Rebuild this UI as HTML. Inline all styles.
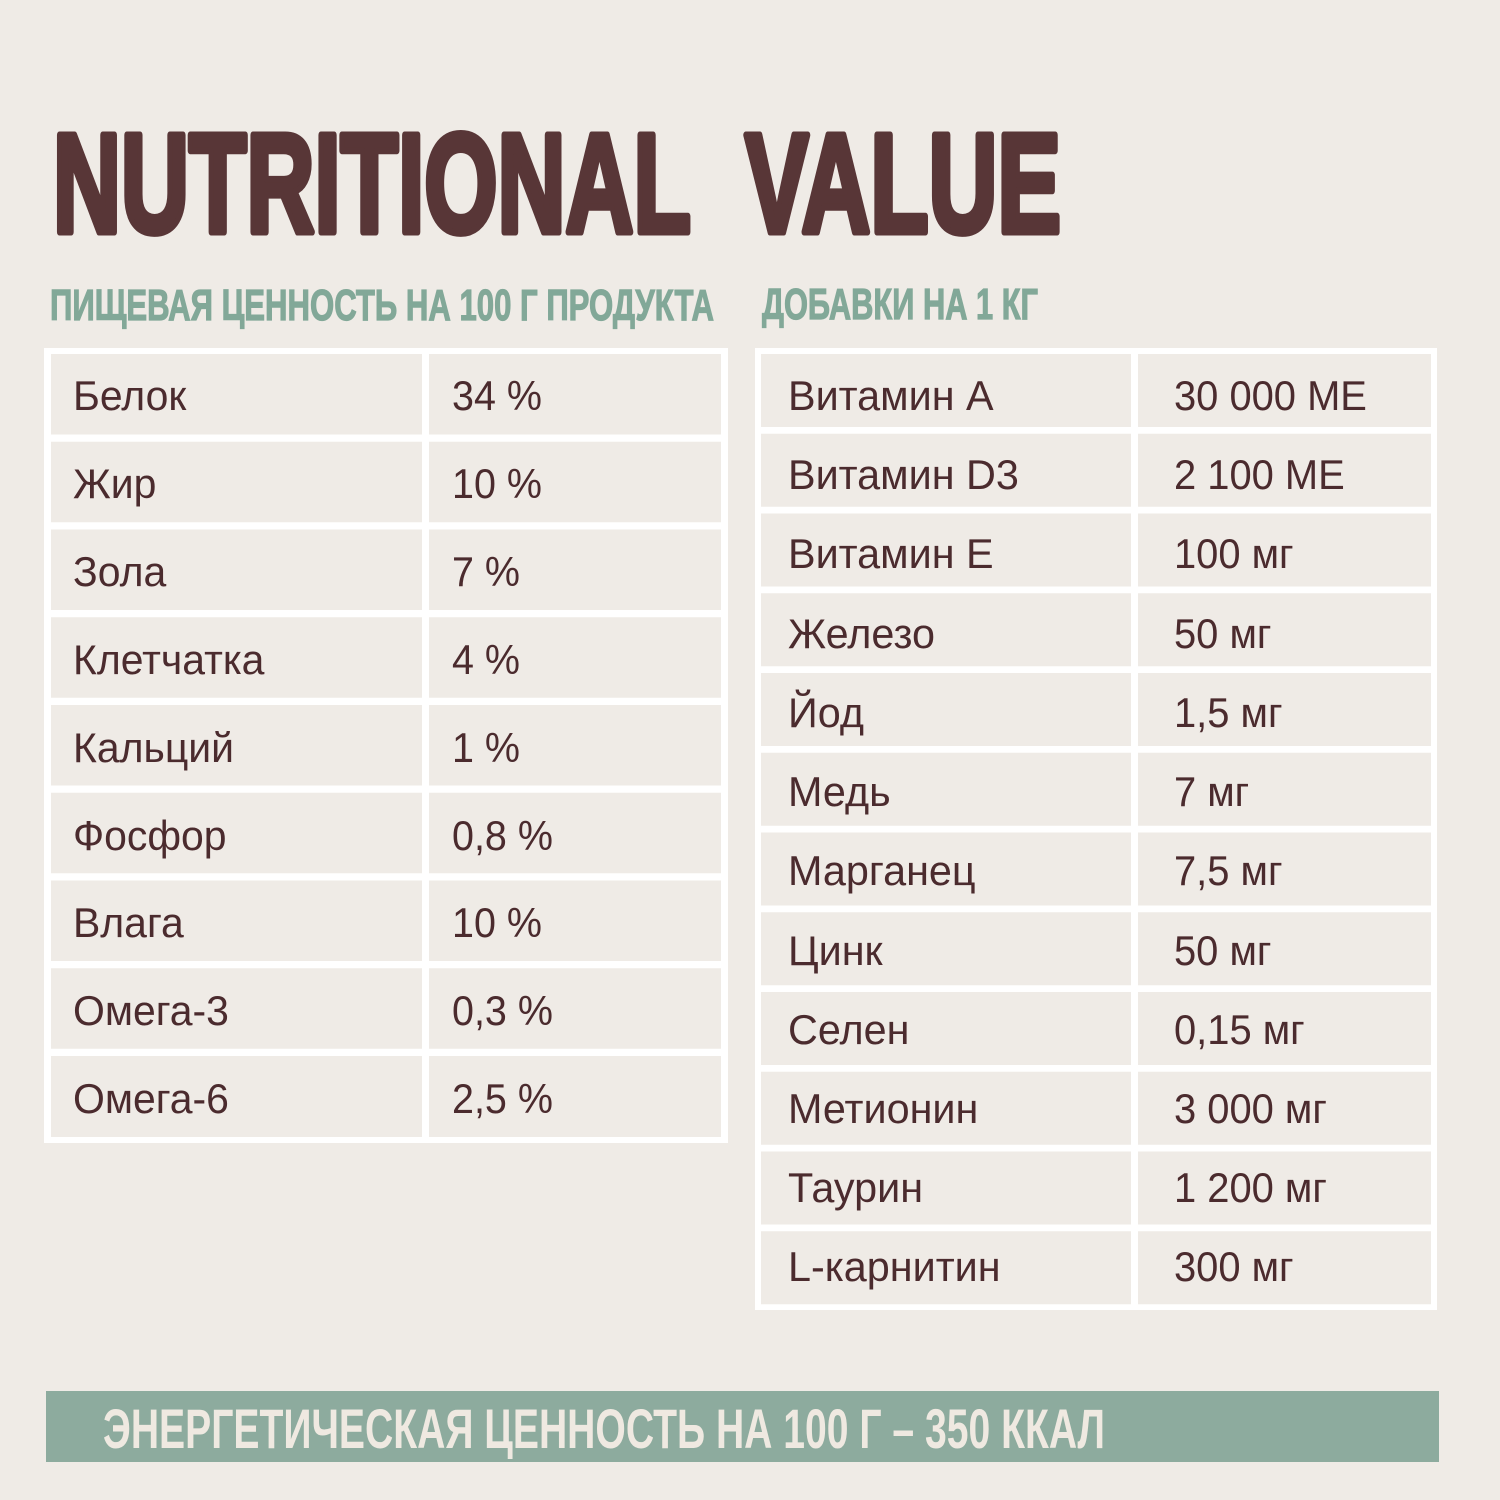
<!DOCTYPE html>
<html>
<head>
<meta charset="utf-8">
<style>
  html, body { margin:0; padding:0; background:#efebe6; }
  svg { display:block; }
</style>
</head>
<body>
<svg width="1500" height="1500" viewBox="0 0 1500 1500" xmlns="http://www.w3.org/2000/svg">
  <rect x="0" y="0" width="1500" height="1500" fill="#efebe6"/>

  <!-- Title -->
  <g font-family="'Liberation Sans', sans-serif" font-weight="bold" fill="#583637" stroke="#583637" stroke-width="7" stroke-linejoin="round">
    <text x="53" y="232" font-size="141" textLength="638" lengthAdjust="spacingAndGlyphs">NUTRITIONAL</text>
    <text x="745" y="232" font-size="141" textLength="316" lengthAdjust="spacingAndGlyphs">VALUE</text>
  </g>

  <!-- Subtitles -->
  <g font-family="'Liberation Sans', 'Noto Sans CJK SC', sans-serif" font-weight="bold" fill="#82a898" stroke="#82a898" stroke-width="1.2">
    <text x="50" y="320" font-size="44" textLength="664" lengthAdjust="spacingAndGlyphs">ПИЩЕВАЯ ЦЕННОСТЬ НА 100 Г ПРОДУКТА</text>
    <text x="762" y="319" font-size="44" textLength="276" lengthAdjust="spacingAndGlyphs">ДОБАВКИ НА 1 КГ</text>
  </g>

  <!-- Left table -->
  <rect x="44" y="348" width="684" height="795" fill="#ffffff"/>
  <g fill="#efebe6">
    <rect x="51" y="354" width="371" height="80.5"/><rect x="429" y="354" width="292" height="80.5"/>
    <rect x="51" y="441.75" width="371" height="80.5"/><rect x="429" y="441.75" width="292" height="80.5"/>
    <rect x="51" y="529.5" width="371" height="80.5"/><rect x="429" y="529.5" width="292" height="80.5"/>
    <rect x="51" y="617.25" width="371" height="80.5"/><rect x="429" y="617.25" width="292" height="80.5"/>
    <rect x="51" y="705" width="371" height="80.5"/><rect x="429" y="705" width="292" height="80.5"/>
    <rect x="51" y="792.75" width="371" height="80.5"/><rect x="429" y="792.75" width="292" height="80.5"/>
    <rect x="51" y="880.5" width="371" height="80.5"/><rect x="429" y="880.5" width="292" height="80.5"/>
    <rect x="51" y="968.25" width="371" height="80.5"/><rect x="429" y="968.25" width="292" height="80.5"/>
    <rect x="51" y="1056" width="371" height="81"/><rect x="429" y="1056" width="292" height="81"/>
  </g>
  <g font-family="'Liberation Sans', 'Noto Sans CJK SC', sans-serif" font-size="42" fill="#4b2b2e">
    <g transform="translate(73,0) scale(0.975,1) translate(-73,0)">
      <text x="73" y="410">Белок</text>
      <text x="73" y="498">Жир</text>
      <text x="73" y="586">Зола</text>
      <text x="73" y="674">Клетчатка</text>
      <text x="73" y="762">Кальций</text>
      <text x="73" y="850">Фосфор</text>
      <text x="73" y="937">Влага</text>
      <text x="73" y="1025">Омега-3</text>
      <text x="73" y="1113">Омега-6</text>
    </g>
    <g transform="translate(452,0) scale(0.94,1) translate(-452,0)">
      <text x="452" y="410">34 %</text>
      <text x="452" y="498">10 %</text>
      <text x="452" y="586">7 %</text>
      <text x="452" y="674">4 %</text>
      <text x="452" y="762">1 %</text>
      <text x="452" y="850">0,8 %</text>
      <text x="452" y="937">10 %</text>
      <text x="452" y="1025">0,3 %</text>
      <text x="452" y="1113">2,5 %</text>
    </g>
  </g>

  <!-- Right table -->
  <rect x="755" y="348" width="682" height="962" fill="#ffffff"/>
  <g fill="#efebe6">
    <rect x="761" y="354" width="370" height="73"/><rect x="1138" y="354" width="293" height="73"/>
    <rect x="761" y="433.75" width="370" height="73"/><rect x="1138" y="433.75" width="293" height="73"/>
    <rect x="761" y="513.5" width="370" height="73"/><rect x="1138" y="513.5" width="293" height="73"/>
    <rect x="761" y="593.25" width="370" height="73"/><rect x="1138" y="593.25" width="293" height="73"/>
    <rect x="761" y="673" width="370" height="73"/><rect x="1138" y="673" width="293" height="73"/>
    <rect x="761" y="752.75" width="370" height="73"/><rect x="1138" y="752.75" width="293" height="73"/>
    <rect x="761" y="832.5" width="370" height="73"/><rect x="1138" y="832.5" width="293" height="73"/>
    <rect x="761" y="912.25" width="370" height="73"/><rect x="1138" y="912.25" width="293" height="73"/>
    <rect x="761" y="992" width="370" height="73"/><rect x="1138" y="992" width="293" height="73"/>
    <rect x="761" y="1071.75" width="370" height="73"/><rect x="1138" y="1071.75" width="293" height="73"/>
    <rect x="761" y="1151.5" width="370" height="73"/><rect x="1138" y="1151.5" width="293" height="73"/>
    <rect x="761" y="1231.25" width="370" height="73"/><rect x="1138" y="1231.25" width="293" height="73"/>
  </g>
  <g font-family="'Liberation Sans', 'Noto Sans CJK SC', sans-serif" font-size="42" fill="#4b2b2e">
    <g transform="translate(788,0) scale(0.985,1) translate(-788,0)">
      <text x="788" y="410">Витамин А</text>
      <text x="788" y="489">Витамин D3</text>
      <text x="788" y="568">Витамин Е</text>
      <text x="788" y="648">Железо</text>
      <text x="788" y="727">Йод</text>
      <text x="788" y="806">Медь</text>
      <text x="788" y="885">Марганец</text>
      <text x="788" y="965">Цинк</text>
      <text x="788" y="1044">Селен</text>
      <text x="788" y="1123">Метионин</text>
      <text x="788" y="1202">Таурин</text>
      <text x="788" y="1281">L-карнитин</text>
    </g>
    <g transform="translate(1174,0) scale(0.95,1) translate(-1174,0)">
      <text x="1174" y="410">30 000 МЕ</text>
      <text x="1174" y="489">2 100 МЕ</text>
      <text x="1174" y="568">100 мг</text>
      <text x="1174" y="648">50 мг</text>
      <text x="1174" y="727">1,5 мг</text>
      <text x="1174" y="806">7 мг</text>
      <text x="1174" y="885">7,5 мг</text>
      <text x="1174" y="965">50 мг</text>
      <text x="1174" y="1044">0,15 мг</text>
      <text x="1174" y="1123">3 000 мг</text>
      <text x="1174" y="1202">1 200 мг</text>
      <text x="1174" y="1281">300 мг</text>
    </g>
  </g>

  <!-- Energy bar -->
  <rect x="46" y="1391" width="1393" height="71" fill="#8dab9e"/>
  <text x="103" y="1448" font-family="'Liberation Sans', 'Noto Sans CJK SC', sans-serif" font-size="56" font-weight="bold" fill="#efe9e1" textLength="1002" lengthAdjust="spacingAndGlyphs">ЭНЕРГЕТИЧЕСКАЯ ЦЕННОСТЬ НА 100 Г – 350 ККАЛ</text>
</svg>
</body>
</html>
